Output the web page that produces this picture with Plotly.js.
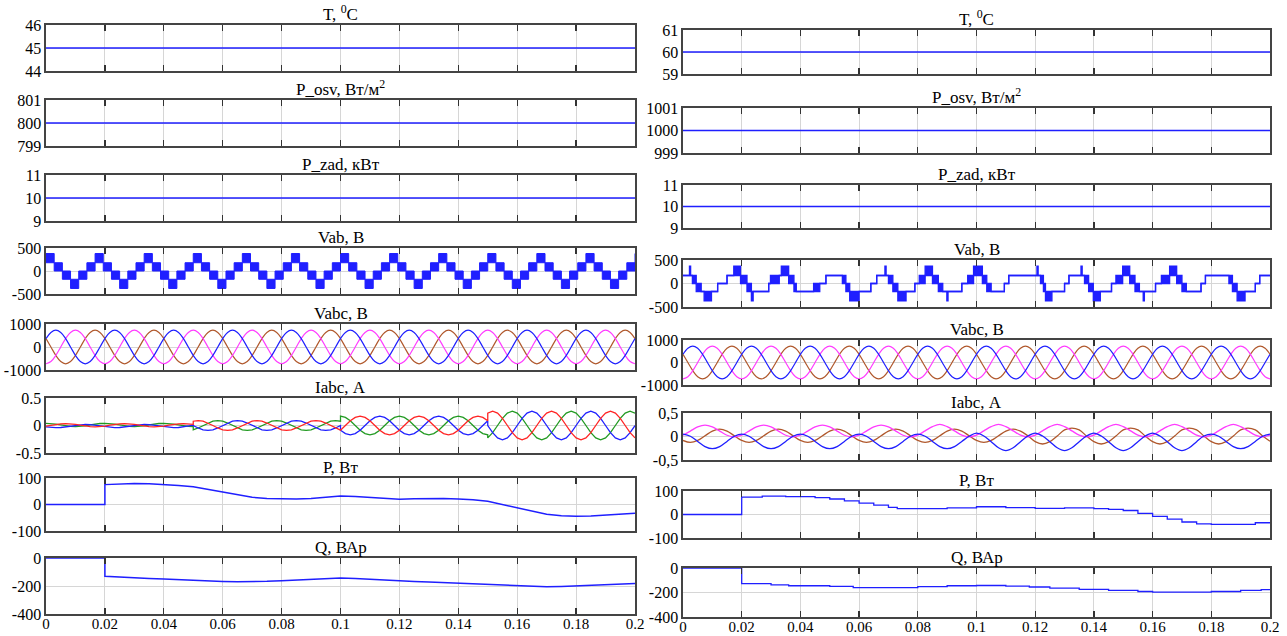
<!DOCTYPE html>
<html><head><meta charset="utf-8">
<script src="https://cdn.plot.ly/plotly-3.0.1.min.js"></script>
<style>html,body{margin:0;padding:0;background:#fff}#chart{width:1287px;height:636px}</style>
</head><body><div id="chart"></div>
<script>
// ---------------- DATA ----------------
const tSpan = [0, 0.2];
const tempLeft = [45, 45];
const tempRight = [60, 60];
const irrLeft = [800, 800];
const irrRight = [1000, 1000];
const pzadLeft = [10, 10];
const pzadRight = [10, 10];

// Left Vab: PWM blocks (upper / lower level of each block)
const vabLeftHi = [380,180,0,-180,0,180, 380,180,0,-180,0,180, 380,180,0,-180,0,180, 380,180,0,-180,0,180,
  380,180,0,-180,0,180, 380,180,0,-180,0,180, 380,180,0,-180,0,180, 380,180,0,-180,0,180,
  380,180,0,-180,0,180, 380,180,0,-180,0,180, 380,180,0,-180,0,180, 380,180,0,-180,0,180, 380];
const vabLeftLo = [180,0,-180,-380,-180,0, 180,0,-180,-380,-180,0, 180,0,-180,-380,-180,0, 180,0,-180,-380,-180,0,
  180,0,-180,-380,-180,0, 180,0,-180,-380,-180,0, 180,0,-180,-380,-180,0, 180,0,-180,-380,-180,0,
  180,0,-180,-380,-180,0, 180,0,-180,-380,-180,0, 180,0,-180,-380,-180,0, 180,0,-180,-380,-180,0, 180];

// Right Vab: segment start times, lower and upper levels
const vabRightT = [0,0.0022,0.0026,0.0032,0.0045,0.0062,0.0072,0.0097,0.0118,0.0150,0.0173,0.0196,0.0218,0.0233,0.0239,0.0292,0.0298,0.0328,0.0335,0.0360,0.0378,0.0386,0.0445,0.0466,0.0487,0.0543,0.0555,0.0568,0.0600,0.0640,0.0660,0.0688,0.0692,0.0700,0.0715,0.0732,0.0760,0.0790,0.0805,0.0825,0.0850,0.0870,0.0885,0.0899,0.0903,0.0950,0.0970,0.0990,0.1020,0.1035,0.1050,0.1095,0.1110,0.1206,0.1210,0.1218,0.1228,0.1235,0.1257,0.1300,0.1315,0.1356,0.1360,0.1368,0.1382,0.1398,0.1422,0.1460,0.1475,0.1498,0.1522,0.1540,0.1555,0.1568,0.1572,0.1610,0.1630,0.1658,0.1682,0.1700,0.1715,0.1765,0.1780,0.1860,0.1872,0.1888,0.1915,0.1950,0.1965,0.2000];
const vabRightLo = [170,170,170,0,-170,-170,-370,-170,0,170,170,0,-170,-370,-170,0,0,170,170,0,-170,-170,-170,0,170,0,-170,-370,-170,0,170,170,170,0,-170,-370,-170,0,0,170,0,-170,-170,-370,-170,0,0,170,0,-170,-170,0,170,170,170,0,-170,-370,-170,0,170,170,170,0,-170,-370,-170,0,0,170,0,-170,-170,-370,-170,0,0,170,0,-170,-170,0,170,0,-170,-370,-170,0,170,170];
const vabRightHi = [170,370,170,170,0,-170,-170,-170,0,170,370,170,0,-170,-170,0,170,170,370,170,0,-170,0,0,170,170,0,-170,-170,0,170,370,170,170,0,-170,-170,0,170,370,170,0,-170,-170,-170,0,170,370,170,0,-170,0,170,370,170,170,0,-170,-170,0,170,370,170,170,0,-170,-170,0,170,370,170,0,-170,-170,-170,0,170,370,170,0,-170,0,170,170,0,-170,-170,0,170,170];

// Vabc (same in both columns), samples every 1/12 period
const vabcBlue = [365,632,730,632,365,0,-365,-632,-730,-632,-365,0, 365,632,730,632,365,0,-365,-632,-730,-632,-365,0,
 365,632,730,632,365,0,-365,-632,-730,-632,-365,0, 365,632,730,632,365,0,-365,-632,-730,-632,-365,0,
 365,632,730,632,365,0,-365,-632,-730,-632,-365,0, 365,632,730,632,365,0,-365,-632,-730,-632,-365,0,
 365,632,730,632,365,0,-365,-632,-730,-632,-365,0, 365,632,730,632,365,0,-365,-632,-730,-632,-365,0,
 365,632,730,632,365,0,-365,-632,-730,-632,-365,0, 365,632,730,632,365,0,-365,-632,-730,-632,-365,0, 365];
const vabcBrown = [365,0,-365,-632,-730,-632,-365,0,365,632,730,632, 365,0,-365,-632,-730,-632,-365,0,365,632,730,632,
 365,0,-365,-632,-730,-632,-365,0,365,632,730,632, 365,0,-365,-632,-730,-632,-365,0,365,632,730,632,
 365,0,-365,-632,-730,-632,-365,0,365,632,730,632, 365,0,-365,-632,-730,-632,-365,0,365,632,730,632,
 365,0,-365,-632,-730,-632,-365,0,365,632,730,632, 365,0,-365,-632,-730,-632,-365,0,365,632,730,632,
 365,0,-365,-632,-730,-632,-365,0,365,632,730,632, 365,0,-365,-632,-730,-632,-365,0,365,632,730,632, 365];
const vabcPink = [-730,-632,-365,0,365,632,730,632,365,0,-365,-632, -730,-632,-365,0,365,632,730,632,365,0,-365,-632,
 -730,-632,-365,0,365,632,730,632,365,0,-365,-632, -730,-632,-365,0,365,632,730,632,365,0,-365,-632,
 -730,-632,-365,0,365,632,730,632,365,0,-365,-632, -730,-632,-365,0,365,632,730,632,365,0,-365,-632,
 -730,-632,-365,0,365,632,730,632,365,0,-365,-632, -730,-632,-365,0,365,632,730,632,365,0,-365,-632,
 -730,-632,-365,0,365,632,730,632,365,0,-365,-632, -730,-632,-365,0,365,632,730,632,365,0,-365,-632, -730];

// Left Iabc: four intervals with growing amplitude
const iLeftStart = [0, 0.05, 0.1, 0.15];
const iLeftGreen = [
 [.04,.036,.025,.01,-.005,-.016,-.02,-.016,-.005,.01,.025,.036,.04,.036,.025,.01,-.005,-.016,-.02,-.016,-.005,.01,.025,.036,.04,.036,.025,.01,-.005,-.016,-.02],
 [-.078,-.045,0,.045,.078,.09,.078,.045,0,-.045,-.078,-.09,-.078,-.045,0,.045,.078,.09,.078,.045,0,-.045,-.078,-.09,-.078,-.045,0,.045,.078,.09,.078],
 [.17,.147,.085,0,-.085,-.147,-.17,-.147,-.085,0,.085,.147,.17,.147,.085,0,-.085,-.147,-.17,-.147,-.085,0,.085,.147,.17,.147,.085,0,-.085,-.147,-.17],
 [-.225,-.13,0,.13,.225,.26,.225,.13,0,-.13,-.225,-.26,-.225,-.13,0,.13,.225,.26,.225,.13,0,-.13,-.225,-.26,-.225,-.13,0,.13,.225,.26,.225]];
const iLeftRed = [
 [-.01,.005,.02,.031,.035,.031,.02,.005,-.01,-.021,-.025,-.021,-.01,.005,.02,.031,.035,.031,.02,.005,-.01,-.021,-.025,-.021,-.01,.005,.02,.031,.035,.031,.02],
 [.078,.09,.078,.045,0,-.045,-.078,-.09,-.078,-.045,0,.045,.078,.09,.078,.045,0,-.045,-.078,-.09,-.078,-.045,0,.045,.078,.09,.078,.045,0,-.045,-.078],
 [-.085,0,.085,.147,.17,.147,.085,0,-.085,-.147,-.17,-.147,-.085,0,.085,.147,.17,.147,.085,0,-.085,-.147,-.17,-.147,-.085,0,.085,.147,.17,.147,.085],
 [.225,.26,.225,.13,0,-.13,-.225,-.26,-.225,-.13,0,.13,.225,.26,.225,.13,0,-.13,-.225,-.26,-.225,-.13,0,.13,.225,.26,.225,.13,0,-.13,-.225]];
const iLeftBlue = [
 [-.025,-.036,-.04,-.036,-.025,-.01,.005,.016,.02,.016,.005,-.01,-.025,-.036,-.04,-.036,-.025,-.01,.005,.016,.02,.016,.005,-.01,-.025,-.036,-.04,-.036,-.025,-.01,.005],
 [0,-.045,-.078,-.09,-.078,-.045,0,.045,.078,.09,.078,.045,0,-.045,-.078,-.09,-.078,-.045,0,.045,.078,.09,.078,.045,0,-.045,-.078,-.09,-.078,-.045,0],
 [-.085,-.147,-.17,-.147,-.085,0,.085,.147,.17,.147,.085,0,-.085,-.147,-.17,-.147,-.085,0,.085,.147,.17,.147,.085,0,-.085,-.147,-.17,-.147,-.085,0,.085],
 [0,-.13,-.225,-.26,-.225,-.13,0,.13,.225,.26,.225,.13,0,-.13,-.225,-.26,-.225,-.13,0,.13,.225,.26,.225,.13,0,-.13,-.225,-.26,-.225,-.13,0]];

// Right Iabc, samples every 1/8 period
const iRightPink = [.027,.115,.203,.24,.203,.115,.027,-.01, .027,.115,.203,.24,.203,.115,.027,-.01, .027,.115,.203,.24,.203,.115,.027,-.01, .027,.115,.203,.24,.203,.115,.027,-.01,
 .03,.12,.21,.26,.21,.12,.03,-.01, .03,.12,.21,.26,.21,.12,.03,-.01, .03,.12,.21,.26,.21,.12,.03,-.01, .03,.12,.21,.26,.21,.12,.03,-.01, .03,.12,.21,.26,.21,.12,.03,-.01, .03,.12,.21,.26,.21,.12,.03,-.01, .03];
const iRightBlue = [.05,.005,-.105,-.215,-.26,-.215,-.105,.005, .05,.005,-.105,-.215,-.26,-.215,-.105,.005, .05,.005,-.105,-.215,-.26,-.215,-.105,.005, .05,.005,-.105,-.215,-.26,-.215,-.105,.005, .05,.005,-.105,-.215,-.26,-.215,-.105,.005,
 .07,.01,-.11,-.24,-.3,-.24,-.11,.01, .07,.01,-.11,-.24,-.3,-.24,-.11,.01, .07,.01,-.11,-.24,-.3,-.24,-.11,.01, .07,.01,-.11,-.24,-.3,-.24,-.11,.01, .05,.005,-.105,-.215,-.26,-.215,-.105,.005, .05];
const iRightBrown = [-.084,-.125,-.084,.015,.114,.155,.114,.015, -.084,-.125,-.084,.015,.114,.155,.114,.015, -.084,-.125,-.084,.015,.114,.155,.114,.015, -.084,-.125,-.084,.015,.114,.155,.114,.015, -.084,-.125,-.084,.015,.114,.155,.114,.015, -.084,-.125,-.084,.015,.114,.155,.114,.015,
 -.11,-.16,-.11,.01,.14,.18,.14,.01, -.11,-.16,-.11,.01,.14,.18,.14,.01, -.11,-.16,-.11,.01,.14,.18,.14,.01, -.11,-.16,-.11,.01,.14,.18,.14,.01, -.1];

// P and Q
const pqLeftT = [0,0.02,0.02,0.025,0.03,0.035,0.04,0.045,0.05,0.055,0.06,0.065,0.07,0.075,0.08,0.085,0.09,0.095,0.1,0.105,0.11,0.115,0.12,0.125,0.13,0.135,0.14,0.145,0.15,0.155,0.16,0.165,0.17,0.175,0.18,0.185,0.19,0.195,0.2];
const pLeft = [0,0,75,78,79,78,76,72,67,57,45,35,27,23,21,21,23,27,32,30,27,23,20,22,23,23,21,18,12,0,-12,-26,-37,-42,-44,-43,-40,-37,-33];
const qLeft = [0,0,-130,-137,-142,-146,-150,-155,-160,-164,-167,-169,-170,-166,-162,-156,-150,-146,-143,-146,-150,-156,-162,-167,-172,-176,-180,-183,-187,-193,-198,-202,-205,-203,-199,-195,-190,-186,-182];
const pRightT = [0,0.02,0.027,0.035,0.045,0.05,0.055,0.06,0.065,0.07,0.073,0.09,0.1,0.11,0.12,0.13,0.14,0.145,0.15,0.155,0.16,0.165,0.17,0.175,0.18,0.195,0.2];
const pRight = [0,74,78,76,72,66,58,48,40,30,25,28,33,29,26,28,25,22,17,5,-8,-20,-32,-40,-42,-35,-33];
const qRightT = [0,0.02,0.03,0.036,0.05,0.058,0.072,0.08,0.09,0.1,0.11,0.118,0.125,0.135,0.145,0.155,0.16,0.175,0.18,0.19,0.197,0.2];
const qRight = [0,-128,-137,-145,-150,-160,-160,-152,-145,-143,-148,-155,-165,-175,-183,-192,-197,-197,-192,-183,-177,-177];

// Axis ticks / labels
const xTicks = [0,0.02,0.04,0.06,0.08,0.1,0.12,0.14,0.16,0.18,0.2];
const xTickText = ['0','0.02','0.04','0.06','0.08','0.1','0.12','0.14','0.16','0.18','0.2'];
const yTicksLeft = [[44,45,46],[799,800,801],[9,10,11],[-500,0,500],[-1000,0,1000],[-0.5,0,0.5],[-100,0,100],[-400,-200,0]];
const yTicksRight = [[59,60,61],[999,1000,1001],[9,10,11],[-500,0,500],[-1000,0,1000],[-0.5,0,0.5],[-100,0,100],[-400,-200,0]];
const yTextLeft = [['44','45','46'],['799','800','801'],['9','10','11'],['-500','0','500'],['-1000','0','1000'],['-0.5','0','0.5'],['-100','0','100'],['-400','-200','0']];
const yTextRight = [['59','60','61'],['999','1000','1001'],['9','10','11'],['-500','0','500'],['-1000','0','1000'],['-0,5','0','0,5'],['-100','0','100'],['-400','-200','0']];
const panelTitles = ['T, <sup>0</sup>C','P_osv, Вт/м<sup>2</sup>','P_zad, кВт','Vab, В','Vabc, В','Iabc, А','P, Вт','Q, ВАр'];

// ---------------- LAYOUT / STYLE ----------------
const W = 1287, H = 636;
const colX = [[46, 635], [683, 1270]];
const rowsY = [
  [[25,71],[100,146],[175,221],[248,294],[324,370],[398,453],[478,531],[558,614]],
  [[30,74],[108,153],[185,228],[260,307],[340,385],[413,460],[491,538],[568,617]]
];
const BLUE = '#1f1fff', PINK = '#ff3cff', BROWN = '#b0582c', RED = '#ff2424', GREEN = '#229a22';
const FONT = 'Liberation Serif';

const layout = {
  width: W, height: H, margin: {l:0, r:0, t:0, b:0},
  paper_bgcolor: '#fff', plot_bgcolor: '#fff', showlegend: false,
  font: {family: FONT, size: 16, color: '#000'},
  annotations: []
};
const traces = [];

function axisId(c, r) { return c * 8 + r + 1; }

for (let c = 0; c < 2; c++) {
  for (let r = 0; r < 8; r++) {
    const n = axisId(c, r);
    const xs = n === 1 ? 'xaxis' : 'xaxis' + n;
    const ys = n === 1 ? 'yaxis' : 'yaxis' + n;
    const [top, bot] = rowsY[c][r];
    const ticks = c === 0 ? yTicksLeft[r] : yTicksRight[r];
    const ttext = c === 0 ? yTextLeft[r] : yTextRight[r];
    layout[xs] = {
      domain: [colX[c][0] / W, colX[c][1] / W], anchor: 'y' + (n === 1 ? '' : n),
      range: tSpan, tickvals: xTicks, ticktext: xTickText, showticklabels: r === 7,
      ticks: 'inside', ticklen: 6, tickwidth: 1.3, tickcolor: '#333', mirror: 'ticks',
      showline: true, linecolor: '#444', linewidth: 1.6, showgrid: true, gridcolor: '#d6d6d6', gridwidth: 1,
      zeroline: false, tickfont: {family: FONT, size: 15, color: '#000'}, ticklabelstandoff: -5, fixedrange: true
    };
    layout[ys] = {
      domain: [1 - bot / H, 1 - top / H], anchor: 'x' + (n === 1 ? '' : n),
      range: [ticks[0], ticks[2]], tickvals: ticks, ticktext: ttext,
      ticks: '', showline: true, mirror: true, linecolor: '#444', linewidth: 1.6,
      showgrid: true, gridcolor: '#d6d6d6', zeroline: false,
      tickfont: {family: FONT, size: 16, color: '#000'}, ticklabelstandoff: 0, fixedrange: true
    };
    layout.annotations.push({
      xref: 'paper', yref: 'paper', x: (colX[c][0] + colX[c][1]) / 2 / W, y: 1 - top / H,
      xanchor: 'center', yanchor: 'bottom', yshift: -1, showarrow: false,
      text: panelTitles[r], font: {family: FONT, size: 17, color: '#000'}
    });
  }
}

function ax(c, r) { const n = axisId(c, r); return {xaxis: 'x' + (n === 1 ? '' : n), yaxis: 'y' + (n === 1 ? '' : n)}; }
function line(c, r, x, y, color, extra) {
  traces.push(Object.assign({type: 'scatter', mode: 'lines', x: x, y: y, line: {color: color, width: 1.3}, hoverinfo: 'skip'}, ax(c, r), extra || {}));
}

// Constant inputs
line(0, 0, tSpan, tempLeft, BLUE); line(1, 0, tSpan, tempRight, BLUE);
line(0, 1, tSpan, irrLeft, BLUE); line(1, 1, tSpan, irrRight, BLUE);
line(0, 2, tSpan, pzadLeft, BLUE); line(1, 2, tSpan, pzadRight, BLUE);

// Vab left: filled PWM blocks
const vabLeftDx = (tSpan[1] - tSpan[0]) / (vabLeftHi.length - 1);
traces.push(Object.assign({type:'scatter', mode:'lines', x0: 0, dx: vabLeftDx, y: vabLeftLo, line:{color: BLUE, width: 1, shape:'hv'}, hoverinfo:'skip'}, ax(0,3)));
traces.push(Object.assign({type:'scatter', mode:'lines', x0: 0, dx: vabLeftDx, y: vabLeftHi, line:{color: BLUE, width: 1, shape:'hv'}, fill:'tonexty', fillcolor: BLUE, hoverinfo:'skip'}, ax(0,3)));
// Vab right
traces.push(Object.assign({type:'scatter', mode:'lines', x: vabRightT, y: vabRightLo, line:{color: BLUE, width: 1.3, shape:'hv'}, hoverinfo:'skip'}, ax(1,3)));
traces.push(Object.assign({type:'scatter', mode:'lines', x: vabRightT, y: vabRightHi, line:{color: BLUE, width: 1.3, shape:'hv'}, fill:'tonexty', fillcolor: BLUE, hoverinfo:'skip'}, ax(1,3)));

// Vabc
const vabcDx = 0.02 / 12;
[0, 1].forEach(c => {
  [[vabcBrown, BROWN], [vabcPink, PINK], [vabcBlue, BLUE]].forEach(([y, col]) => {
    traces.push(Object.assign({type:'scatter', mode:'lines', x0: 0, dx: vabcDx, y: y, line:{color: col, width: 1.2, shape:'spline'}, hoverinfo:'skip'}, ax(c,4)));
  });
});

// Iabc left
function joinSegs(segs) {
  const x = [], y = [];
  segs.forEach((vals, s) => {
    const d = 0.05 / (vals.length - 1);
    vals.forEach((v, k) => { x.push(iLeftStart[s] + k * d); y.push(v); });
  });
  return {x, y};
}
[[iLeftGreen, GREEN], [iLeftBlue, BLUE], [iLeftRed, RED]].forEach(([segs, col]) => {
  const d = joinSegs(segs);
  line(0, 5, d.x, d.y, col, {line: {color: col, width: 1.3}});
});
// Iabc right
const iRightDx = 0.02 / 8;
[[iRightBrown, BROWN], [iRightPink, PINK], [iRightBlue, BLUE]].forEach(([y, col]) => {
  traces.push(Object.assign({type:'scatter', mode:'lines', x0: 0, dx: iRightDx, y: y, line:{color: col, width: 1.3, shape:'spline'}, hoverinfo:'skip'}, ax(1,5)));
});

// P, Q
line(0, 6, pqLeftT, pLeft, BLUE, {line:{color: BLUE, width: 1.5}});
line(0, 7, pqLeftT, qLeft, BLUE, {line:{color: BLUE, width: 1.5}});
line(1, 6, pRightT, pRight, BLUE, {line:{color: BLUE, width: 1.3, shape:'hv'}});
line(1, 7, qRightT, qRight, BLUE, {line:{color: BLUE, width: 1.3, shape:'hv'}});

Plotly.newPlot('chart', traces, layout, {staticPlot: true, displayModeBar: false});
</script>
</body></html>
